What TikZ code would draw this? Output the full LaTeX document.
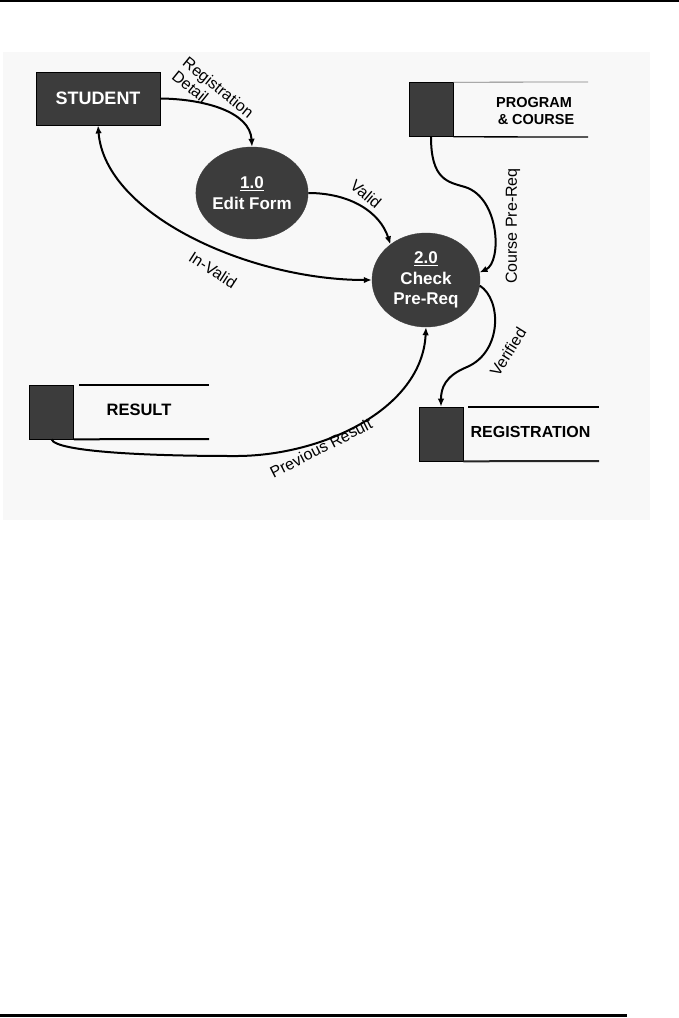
\documentclass[tikz,border=0pt]{standalone}
\usepackage{fontspec}
\setmainfont{Liberation Sans}
\usetikzlibrary{shapes.geometric,arrows.meta}
\definecolor{dark}{HTML}{3C3C3C}
\definecolor{panel}{HTML}{F8F8F8}
\begin{document}
\begin{tikzpicture}[x=1pt,y=-1pt,
  ext/.style={draw=black,line width=0.8pt,fill=dark,text=white,font=\bfseries\fontsize{18}{20}\selectfont,minimum width=124pt,minimum height=53pt,inner sep=0pt},
  proc/.style={ellipse,fill=dark,draw=dark,text=white,align=center,inner sep=0pt},
  storesq/.style={draw=black,line width=0.6pt,fill=dark,minimum width=44pt,minimum height=54pt,inner sep=0pt},
  storetxt/.style={font=\bfseries\fontsize{16}{17}\selectfont,align=center,inner sep=0pt},
  flow/.style={line width=2pt,-{Latex[length=8pt,width=6.5pt]}},
  lbl/.style={font=\fontsize{16}{17}\selectfont,inner sep=0pt}
]
\useasboundingbox (0,0) rectangle (679,1018);
\fill[white] (0,0) rectangle (679,1018);
% rules and panel
\fill[black] (0,0) rectangle (679,2.2);
\fill[black] (0,1014) rectangle (627,1017);
\fill[panel] (3,52) rectangle (650,520);

% external entity
\node[ext] (student) at (98,98.5) {STUDENT};

% processes
\node[proc,minimum width=110pt,minimum height=92pt,font=\bfseries\fontsize{17}{21}\selectfont] (edit) at (252,193) {\underline{1.0}\\Edit Form};
\node[proc,minimum width=108pt,minimum height=94pt,font=\bfseries\fontsize{17}{20.5}\selectfont] (check) at (426,280) {\underline{2.0}\\Check\\Pre-Req};

% data stores
\node[storesq] (prog) at (431,109.5) {};
\draw[line width=0.8pt,gray] (prog.north east) -- (588,82);
\draw[line width=1.3pt] (prog.south east) -- (588,137);
\node[storetxt,font=\bfseries\fontsize{14.5}{17}\selectfont] (progtxt) at (534,111) {PROGRAM\\\ \& COURSE};

\node[storesq] (ressq) at (51.5,412) {};
\draw[line width=2.4pt] (79,385) -- (209,385);
\draw[line width=2pt] (ressq.south east) -- (209,439);
\node[storetxt,font=\bfseries\fontsize{16.5}{17}\selectfont] (restxt) at (139,410) {RESULT};

\node[storesq] (regsq) at (441,434) {};
\draw[line width=2.8pt] (468,407) -- (599,407);
\draw[line width=2pt,black!85] (regsq.south east) -- (599,461);
\node[storetxt] (regtxt) at (530.5,432) {REGISTRATION};

% flows
\draw[flow] (student.east) .. controls (205,99) and (250,112) .. (edit.north);
\draw[flow] (edit.east) .. controls (350,193) and (380,212) .. (check.135);
\draw[line width=2pt,{Latex[length=8pt,width=6.5pt]}-{Latex[length=8pt,width=6.5pt]}] (student.south) .. controls (105,215) and (250,280) .. (check.west);
\coordinate (cpm) at (465,187);
\draw[flow] (prog.south) .. controls (431,180) and (448,182) .. (cpm) .. controls (500,198) and (502,262) .. (check.8);
\coordinate (vm) at (467,367);
\draw[flow] (check.-6) .. controls (502,300) and (502,352) .. (vm) .. controls (445,376) and (441,388) .. (regsq.north);
\coordinate (pr) at (233,456);
\draw[flow] (ressq.south) .. controls (56,452) and (150,456) .. (pr) .. controls (320,457) and (422,410) .. (check.south);

% labels
\node[lbl,rotate=-39,align=left] (lregdet) at (213,94) {Registration\\Detail};
\node[lbl,rotate=-40] (lvalid) at (366,194) {Valid};
\node[lbl,rotate=-33] (linvalid) at (213,270) {In-Valid};
\node[lbl,rotate=90] (lcourse) at (513,226) {Course Pre-Req};
\node[lbl,rotate=58] (lverified) at (508,352) {Verified};
\node[lbl,rotate=27] (lprev) at (321,448) {Previous Result};
\end{tikzpicture}
\end{document}
